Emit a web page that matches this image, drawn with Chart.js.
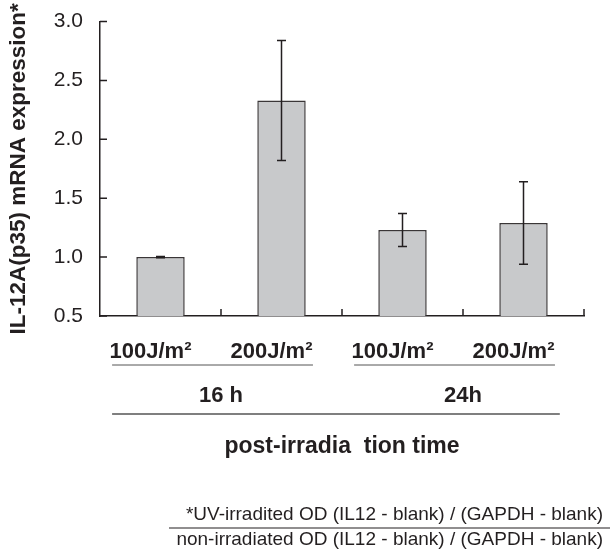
<!DOCTYPE html>
<html>
<head>
<meta charset="utf-8">
<script src="https://cdn.jsdelivr.net/npm/chart.js@4.4.0/dist/chart.umd.min.js"></script>
<style>
body { margin: 0; background: #fff; }
</style>
</head>
<body>
<canvas id="barChart" width="614" height="553"></canvas>
<script>
const categories = ["100J/m\u00B2", "200J/m\u00B2", "100J/m\u00B2", "200J/m\u00B2"];
const means = [1.0, 2.33, 1.23, 1.29];
const errors = [0.005, 0.51, 0.14, 0.35];
const groups = ["16 h", "24h"];
const yTicks = [0.5, 1.0, 1.5, 2.0, 2.5, 3.0];
const footTop = "*UV-irradited OD (IL12 - blank) / (GAPDH - blank)";
const footBottom = "non-irradiated OD (IL12 - blank) / (GAPDH - blank)";

const ink = "#231f20";
const font = "'Liberation Sans', Arial, sans-serif";

const extras = {
    id: "extras",
    afterDatasetsDraw(chart) {
        const ctx = chart.ctx, x = chart.scales.x, y = chart.scales.y;
        ctx.save();
        ctx.strokeStyle = ink;
        ctx.lineWidth = 1.5;
        means.forEach(function (m, i) {
            const cx = x.getPixelForValue(i);
            const top = y.getPixelForValue(m + errors[i]);
            const bot = y.getPixelForValue(m - errors[i]);
            ctx.beginPath();
            ctx.moveTo(cx, top); ctx.lineTo(cx, bot);
            ctx.moveTo(cx - 4.5, top); ctx.lineTo(cx + 4.5, top);
            ctx.moveTo(cx - 4.5, bot); ctx.lineTo(cx + 4.5, bot);
            ctx.stroke();
        });
        ctx.restore();
    },
    afterDraw(chart) {
        const ctx = chart.ctx, x = chart.scales.x, y = chart.scales.y;
        const area = chart.chartArea;
        ctx.save();
        ctx.strokeStyle = ink;
        ctx.lineWidth = 1.5;
        // inward ticks
        ctx.beginPath();
        yTicks.forEach(function (v) {
            const py = y.getPixelForValue(v);
            ctx.moveTo(area.left, py); ctx.lineTo(area.left + 7, py);
        });
        for (let i = 0; i < categories.length; i++) {
            const px = x.getPixelForValue(i + 0.5);
            ctx.moveTo(px, area.bottom); ctx.lineTo(px, area.bottom - 7);
        }
        ctx.stroke();

        const step = x.getPixelForValue(1) - x.getPixelForValue(0);
        ctx.fillStyle = ink;
        ctx.textAlign = "center";
        ctx.textBaseline = "middle";
        ctx.font = "bold 22px " + font;
        categories.forEach(function (c, i) {
            ctx.fillText(c, x.getPixelForValue(i) - 10, area.bottom + 36);
        });

        ctx.lineWidth = 1;
        ctx.strokeStyle = "#555";
        ctx.beginPath();
        groups.forEach(function (g, k) {
            const a = x.getPixelForValue(2 * k), b = x.getPixelForValue(2 * k + 1);
            ctx.moveTo(a - 0.4 * step, area.bottom + 49);
            ctx.lineTo(b + 0.26 * step, area.bottom + 49);
            ctx.fillText(g, (a + b) / 2, area.bottom + 80);
        });
        ctx.stroke();
        ctx.lineWidth = 1.5;
        ctx.beginPath();
        ctx.moveTo(x.getPixelForValue(0) - 0.4 * step, area.bottom + 98);
        ctx.lineTo(x.getPixelForValue(3) + 0.3 * step, area.bottom + 98);
        ctx.stroke();
        ctx.font = "bold 23px " + font;
        ctx.fillText("post-irradia  tion time", (area.left + area.right) / 2, area.bottom + 131);

        ctx.font = "19px " + font;
        ctx.textAlign = "right";
        ctx.fillText(footTop, 603, 515);
        ctx.fillText(footBottom, 603, 540);
        ctx.strokeStyle = ink;
        ctx.lineWidth = 1.2;
        ctx.beginPath();
        ctx.moveTo(169, 528); ctx.lineTo(610, 528);
        ctx.stroke();
        ctx.restore();
    }
};

new Chart(document.getElementById("barChart"), {
    type: "bar",
    data: {
        labels: categories,
        datasets: [{
            data: means,
            backgroundColor: "#c8c9cb",
            borderColor: "#3a3637",
            borderWidth: 1.5,
            categoryPercentage: 1.0,
            barPercentage: 0.4
        }]
    },
    options: {
        responsive: false,
        animation: false,
        events: [],
        layout: { padding: { top: 12, right: 30, left: 0, bottom: 0 } },
        plugins: { legend: { display: false }, tooltip: { enabled: false } },
        scales: {
            x: {
                grid: { display: false },
                border: { display: true, color: ink, width: 1.5 },
                ticks: { display: false },
                afterFit: function (s) { s.height = 237; }
            },
            y: {
                min: 0.5,
                max: 3.0,
                grid: { display: false },
                border: { display: true, color: ink, width: 1.5 },
                ticks: {
                    stepSize: 0.5,
                    padding: 9,
                    color: ink,
                    font: { family: font, size: 21 },
                    callback: function (v) { return v.toFixed(1); }
                },
                title: {
                    display: true,
                    text: "IL-12A(p35) mRNA expression*",
                    color: ink,
                    font: { family: font, size: 22.5, weight: "bold" },
                    padding: { top: 5, bottom: 4 }
                },
                afterFit: function (s) { s.width = 100; }
            }
        }
    },
    plugins: [extras]
});
</script>
</body>
</html>
